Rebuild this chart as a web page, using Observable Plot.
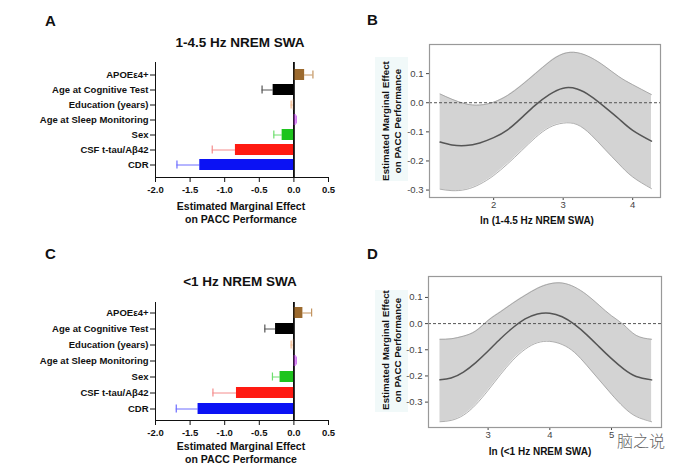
<!DOCTYPE html>
<html>
<head>
<meta charset="utf-8">
<script src="https://cdn.jsdelivr.net/npm/d3@7"></script>
<script src="https://cdn.jsdelivr.net/npm/@observablehq/plot@0.6"></script>
<style>
  html, body { margin: 0; padding: 0; background: #fff; }
  #root { position: relative; width: 687px; height: 470px; overflow: hidden; background: #fff;
          font-family: "Liberation Sans", Arial, Helvetica, sans-serif; color: #111; }
  .abs { position: absolute; }
  .letter { font-weight: bold; font-size: 15px; }
  .title { font-weight: bold; font-size: 13.5px; transform: translate(-50%, -50%); white-space: nowrap; }
  .xlab { font-weight: bold; font-size: 10.5px; line-height: 13px; text-align: center; transform: translateX(-50%); white-space: nowrap; }
  .ylab { font-weight: bold; font-size: 9.8px; line-height: 12px; text-align: center; white-space: nowrap;
          transform: translate(-50%, -50%) rotate(-90deg); }
  .xlab2 { font-weight: bold; font-size: 10px; transform: translate(-50%, -50%); white-space: nowrap; }
</style>
</head>
<body>
<div id="root"></div>
<script>
// ---------- Data ----------
const categories = ["APOEε4+", "Age at Cognitive Test", "Education (years)", "Age at Sleep Monitoring", "Sex", "CSF t-tau/Aβ42", "CDR"];
const barColors = ["#9c6a2e", "#000000", "#f3b98c", "#c94af2", "#1ec41e", "#ff1a12", "#0b12f4"];
const errColors = ["#c39460", "#555555", "#f3b98c", "#cc70f2", "#6ede6e", "#f48c8c", "#6c6cff"];

const effectA = [0.155, -0.30, -0.01, 0.03, -0.17, -0.845, -1.36];
const errEndA = [0.275, -0.46, -0.04, 0.035, -0.29, -1.18, -1.69];
const effectC = [0.13, -0.265, -0.01, 0.03, -0.20, -0.83, -1.385];
const errEndC = [0.256, -0.42, -0.04, 0.035, -0.31, -1.17, -1.70];
const barTicks = [-2.0, -1.5, -1.0, -0.5, 0.0, 0.5];

const xB    = [1.23, 1.4, 1.6, 1.8, 2.0, 2.2, 2.4, 2.6, 2.8, 3.0, 3.2, 3.4, 3.6, 3.8, 4.0, 4.27];
const meanB = [-0.135, -0.145, -0.147, -0.138, -0.12, -0.093, -0.052, -0.008, 0.028, 0.05, 0.047, 0.022, -0.015, -0.055, -0.095, -0.132];
const upB   = [0.03, 0.012, -0.004, -0.008, 0.002, 0.025, 0.06, 0.10, 0.14, 0.168, 0.172, 0.155, 0.125, 0.09, 0.062, 0.028];
const loB   = [-0.297, -0.302, -0.298, -0.28, -0.25, -0.21, -0.165, -0.12, -0.085, -0.07, -0.075, -0.11, -0.16, -0.21, -0.255, -0.295];
const xTicksB = [2, 3, 4];

const xD    = [2.22, 2.4, 2.6, 2.8, 3.0, 3.2, 3.4, 3.6, 3.8, 4.0, 4.2, 4.4, 4.6, 4.8, 5.0, 5.2, 5.4, 5.65];
const meanD = [-0.215, -0.208, -0.185, -0.149, -0.105, -0.058, -0.016, 0.018, 0.037, 0.040, 0.026, -0.003, -0.043, -0.089, -0.134, -0.174, -0.202, -0.215];
const upD   = [-0.06, -0.058, -0.048, -0.028, 0.012, 0.045, 0.078, 0.108, 0.135, 0.152, 0.155, 0.14, 0.11, 0.07, 0.03, -0.005, -0.045, -0.06];
const loD   = [-0.375, -0.37, -0.35, -0.31, -0.255, -0.195, -0.14, -0.098, -0.073, -0.068, -0.08, -0.11, -0.16, -0.215, -0.27, -0.32, -0.355, -0.375];
const xTicksD = [3, 4, 5];
const yTicksCurve = [0.1, 0.0, -0.1, -0.2, -0.3];

// ---------- Helpers ----------
const root = document.getElementById("root");
function place(node, left, top) {
  const d = document.createElement("div");
  d.className = "abs";
  d.style.left = left + "px"; d.style.top = top + "px";
  d.appendChild(node);
  root.appendChild(d);
  return d;
}
function html(cls, text, left, top, extra) {
  const d = document.createElement("div");
  d.className = "abs " + cls;
  d.style.left = left + "px"; d.style.top = top + "px";
  d.innerHTML = text;
  if (extra) Object.assign(d.style, extra);
  root.appendChild(d);
  return d;
}
const fmt1 = d => d.toFixed(1);

function barPanel(effect, errEnd, opts) {
  const rows = categories.map((c, i) => ({cat: c, v: effect[i], e: errEnd[i], col: barColors[i], ecol: errColors[i]}));
  return Plot.plot({
    width: 343, height: 230,
    marginLeft: 155, marginRight: 15, marginTop: opts.top, marginBottom: opts.bottom,
    style: {fontFamily: "'Liberation Sans', Arial, sans-serif", fontSize: "9.5px", fontWeight: "bold", color: "#111", background: "transparent"},
    x: {domain: [-2, 0.5], ticks: barTicks, tickFormat: fmt1, tickSize: 5, tickPadding: 4, line: true, label: null},
    y: {domain: categories, padding: 0.3, tickSize: 5, tickPadding: 2, line: true, label: null},
    color: {type: "identity"},
    marks: [
      Plot.ruleY(rows, {y: "cat", x1: "v", x2: "e", stroke: "ecol", strokeWidth: 1}),
      Plot.tickX(rows, {x: "e", y: "cat", stroke: "ecol", strokeWidth: 1.2, insetTop: 1.5, insetBottom: 1.5}),
      Plot.ruleX([0], {stroke: "#000", strokeWidth: 1.5}),
      Plot.barX(rows, {x1: 0, x2: "v", y: "cat", fill: "col"}),
      Plot.ruleX([0], {stroke: "#000", strokeWidth: 1})
    ]
  });
}

function curvePanel(xs, mean, up, lo, opts) {
  const pts = xs.map((x, i) => ({x, m: mean[i], u: up[i], l: lo[i]}));
  return Plot.plot({
    width: 347, height: 230,
    marginLeft: opts.ml, marginRight: opts.mr, marginTop: opts.mt, marginBottom: opts.mb,
    style: {fontFamily: "Arial, 'Liberation Sans', sans-serif", fontSize: "9.5px", color: "#444", background: "transparent"},
    x: {domain: opts.xdom, ticks: opts.xticks, tickFormat: d => String(d), tickSize: 3, tickPadding: 1, label: null},
    y: {domain: opts.ydom, ticks: yTicksCurve, tickFormat: fmt1, tickSize: 3, tickPadding: 3, label: null},
    marks: [
      Plot.areaY(pts, {x: "x", y1: "l", y2: "u", fill: "#d3d3d3", curve: "natural"}),
      Plot.line(pts, {x: "x", y: "u", stroke: "#9a9a9a", strokeWidth: 0.8, curve: "natural"}),
      Plot.line(pts, {x: "x", y: "l", stroke: "#9a9a9a", strokeWidth: 0.8, curve: "natural"}),
      Plot.ruleY([0], {stroke: "#555", strokeWidth: 1, strokeDasharray: "3,2"}),
      Plot.line(pts, {x: "x", y: "m", stroke: "#555", strokeWidth: 1.5, curve: "natural"}),
      Plot.frame({stroke: "#999", strokeWidth: 1.2})
    ]
  });
}

// ---------- Panel A ----------
html("letter", "A", 45, 12);
html("title", "1-4.5 Hz NREM SWA", 240, 42);
place(barPanel(effectA, errEndA, {top: 62, bottom: 53}), 0, 0);
html("xlab", "Estimated Marginal Effect<br>on PACC Performance", 241, 200);

// ---------- Panel B ----------
html("letter", "B", 367, 11);
html("", "", 375, 57, {width: "33px", height: "124px", background: "#f1f9f9"});
place(curvePanel(xB, meanB, upB, loB, {ml: 89, mr: 27, mt: 44, mb: 33, xdom: [1.077, 4.40], ydom: [-0.3255, 0.2], xticks: xTicksB}), 340, 0);
html("ylab", "Estimated Marginal Effect<br>on PACC Performance", 392, 121);
html("xlab2", "ln (1-4.5 Hz NREM SWA)", 537, 220);

// ---------- Panel C ----------
html("letter", "C", 45, 245);
html("title", "&lt;1 Hz NREM SWA", 240, 281);
place(barPanel(effectC, errEndC, {top: 62, bottom: 50}), 0, 240);
html("xlab", "Estimated Marginal Effect<br>on PACC Performance", 241, 440);

// ---------- Panel D ----------
html("letter", "D", 367, 245);
html("", "", 375, 290, {width: "33px", height: "122px", background: "#f1f9f9"});
place(curvePanel(xD, meanD, upD, loD, {ml: 88, mr: 26, mt: 36, mb: 43, xdom: [2.034, 5.81], ydom: [-0.397, 0.18], xticks: xTicksD}), 340, 240);
html("ylab", "Estimated Marginal Effect<br>on PACC Performance", 392, 350);
html("xlab2", "ln (&lt;1 Hz NREM SWA)", 540, 451);

// watermark
html("", "脑之说", 617, 428, {fontFamily: "'Noto Sans CJK SC', sans-serif", fontSize: "16px", color: "#666", fontWeight: "300"});
</script>
</body>
</html>
